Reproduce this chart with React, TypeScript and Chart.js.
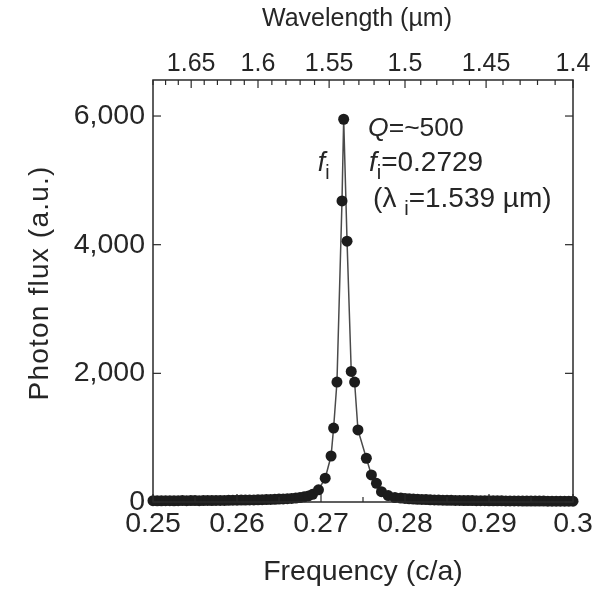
import React, { useEffect, useRef } from 'react';
import { Chart, registerables } from 'chart.js';

Chart.register(...registerables);

// ---- Data ----
const frequency = [
  // low-frequency background
  0.25, 0.2505, 0.251, 0.2515, 0.252, 0.2525, 0.253, 0.2535, 0.254, 0.2545,
  0.255, 0.2555, 0.256, 0.2565, 0.257, 0.2575, 0.258, 0.2585, 0.259, 0.2595,
  0.26, 0.2605, 0.261, 0.2615, 0.262, 0.2625, 0.263, 0.2635, 0.264, 0.2645,
  0.265, 0.2655, 0.266, 0.2665, 0.267, 0.2675, 0.268, 0.2685,
  // resonance peak
  0.269, 0.2697, 0.2705, 0.2712, 0.2715, 0.2719, 0.2725, 0.2727, 0.2731,
  0.2736, 0.274, 0.2744, 0.2754, 0.276, 0.2766, 0.2772, 0.278, 0.2788,
  // high-frequency background
  0.2795, 0.28, 0.2805, 0.281, 0.2815, 0.282, 0.2825, 0.283, 0.2835, 0.284,
  0.2845, 0.285, 0.2855, 0.286, 0.2865, 0.287, 0.2875, 0.288, 0.2885, 0.289,
  0.2895, 0.29, 0.2905, 0.291, 0.2915, 0.292, 0.2925, 0.293, 0.2935, 0.294,
  0.2945, 0.295, 0.2955, 0.296, 0.2965, 0.297, 0.2975, 0.298, 0.2985, 0.299,
  0.2995, 0.3,
];
const photonFlux = [
  20, 18, 18, 20, 20, 18, 20, 22, 20, 22,
  22, 20, 22, 24, 22, 24, 25, 24, 26, 28,
  28, 30, 30, 32, 32, 35, 36, 38, 40, 42,
  45, 48, 52, 56, 62, 70, 80, 95,
  120, 190, 370, 715, 1150, 1865, 4680, 5950, 4055,
  2030, 1865, 1120, 680, 420, 290, 160, 100, 70,
  62, 55, 50, 46, 42, 40, 38, 35, 32, 30,
  28, 27, 26, 25, 24, 23, 22, 22, 21, 20,
  20, 19, 18, 18, 18, 17, 17, 16, 16, 15,
  15, 15, 14, 14, 14, 13, 13, 13, 12, 12,
  12, 12,
];

const freqTicks = [0.25, 0.26, 0.27, 0.28, 0.29, 0.3];
const freqTickLabels = ['0.25', '0.26', '0.27', '0.28', '0.29', '0.3'];
const freqMinorTicks = [0.255, 0.265, 0.275, 0.285, 0.295];
const fluxTicks = [0, 2000, 4000, 6000];
const fluxTickLabels = ['0', '2,000', '4,000', '6,000'];
const wavelengthTicks = [1.65, 1.6, 1.55, 1.5, 1.45, 1.4];
const wavelengthTickLabels = ['1.65', '1.6', '1.55', '1.5', '1.45', '1.4'];
const wavelengthMinorTicks = [
  1.68, 1.67, 1.66, 1.64, 1.63, 1.62, 1.61, 1.59, 1.58, 1.57, 1.56,
  1.54, 1.53, 1.52, 1.51, 1.49, 1.48, 1.47, 1.46, 1.44, 1.43, 1.42, 1.41,
];
const LATTICE_UM = 0.42; // a = f * lambda (0.2729 * 1.539 um)

const X_MIN = 0.25;
const X_MAX = 0.3;
const Y_MIN = 0;
const Y_MAX = 6560;

const FONT = "'Liberation Sans', Arial, Helvetica, sans-serif";
const TEXT = '#262626';

type Seg = { t: string; italic?: boolean; sub?: boolean };

function drawRich(ctx: CanvasRenderingContext2D, x: number, y: number, segs: Seg[], size: number) {
  let cx = x;
  for (const s of segs) {
    const fs = s.sub ? size * 0.72 : size;
    ctx.font = `${s.italic ? 'italic ' : ''}${fs}px ${FONT}`;
    const dy = s.sub ? size * 0.28 : 0;
    ctx.fillText(s.t, cx, y + dy);
    cx += ctx.measureText(s.t).width;
  }
}

const frameTicksPlugin = {
  id: 'frameTicks',
  afterDraw(chart: any) {
    const { ctx, chartArea } = chart;
    const { left, right, top, bottom } = chartArea;
    const xs = chart.scales.x;
    const ys = chart.scales.y;
    ctx.save();
    ctx.strokeStyle = '#2a2a2a';
    ctx.lineWidth = 1.5;
    ctx.strokeRect(left, top, right - left, bottom - top);
    ctx.lineWidth = 1.2;
    const tick = (x1: number, y1: number, x2: number, y2: number) => {
      ctx.beginPath();
      ctx.moveTo(x1, y1);
      ctx.lineTo(x2, y2);
      ctx.stroke();
    };
    freqTicks.forEach((v) => {
      const px = xs.getPixelForValue(v);
      tick(px, bottom, px, bottom - 8);
    });
    freqMinorTicks.forEach((v) => {
      const px = xs.getPixelForValue(v);
      tick(px, bottom, px, bottom - 5);
    });
    wavelengthTicks.forEach((l) => {
      const px = xs.getPixelForValue(LATTICE_UM / l);
      tick(px, top, px, top + 8);
    });
    wavelengthMinorTicks.forEach((l) => {
      const px = xs.getPixelForValue(LATTICE_UM / l);
      tick(px, top, px, top + 5);
    });
    fluxTicks.forEach((v) => {
      const py = ys.getPixelForValue(v);
      tick(left, py, left + 8, py);
      tick(right, py, right - 8, py);
    });

    // top axis title
    ctx.fillStyle = TEXT;
    ctx.font = `25px ${FONT}`;
    ctx.textAlign = 'center';
    ctx.textBaseline = 'middle';
    ctx.fillText('Wavelength (\u00B5m)', (left + right) / 2 - 6, 19);

    // y-axis title (drawn here to allow letter spacing)
    ctx.save();
    ctx.translate(40, (top + bottom) / 2 - 8);
    ctx.rotate(-Math.PI / 2);
    ctx.font = `28px ${FONT}`;
    (ctx as any).letterSpacing = '1.2px';
    ctx.fillText('Photon flux (a.u.)', 0, 0);
    ctx.restore();
    ctx.restore();
  },
};

const annotationPlugin = {
  id: 'annotations',
  afterDatasetsDraw(chart: any) {
    const { ctx } = chart;
    const xs = chart.scales.x;
    const ys = chart.scales.y;
    ctx.save();
    ctx.fillStyle = TEXT;
    ctx.textBaseline = 'alphabetic';
    ctx.textAlign = 'left';
    drawRich(ctx, xs.getPixelForValue(0.2756), ys.getPixelForValue(5690),
      [{ t: 'Q', italic: true }, { t: '=~500' }], 26.5);
    drawRich(ctx, xs.getPixelForValue(0.2757), ys.getPixelForValue(5140),
      [{ t: 'f', italic: true }, { t: 'i', sub: true }, { t: '=0.2729' }], 28);
    drawRich(ctx, xs.getPixelForValue(0.2762), ys.getPixelForValue(4580),
      [{ t: '(\u03BB ' }, { t: 'i', sub: true }, { t: '=1.539 \u00B5m)' }], 28);
    drawRich(ctx, xs.getPixelForValue(0.2696), ys.getPixelForValue(5140),
      [{ t: 'f', italic: true }, { t: 'i', sub: true }], 27);
    ctx.restore();
  },
};

export default function App() {
  const canvasRef = useRef<HTMLCanvasElement | null>(null);

  useEffect(() => {
    const canvas = canvasRef.current;
    if (!canvas) return;
    const points = frequency.map((f, i) => ({ x: f, y: photonFlux[i] }));
    const mainFont = { family: FONT, size: 28.5 };
    const topFont = { family: FONT, size: 25 };

    const chart = new Chart(canvas, {
      type: 'scatter',
      data: {
        datasets: [
          {
            data: points,
            showLine: true,
            borderColor: '#4a4a4a',
            borderWidth: 1.5,
            pointRadius: 5.5,
            pointBackgroundColor: '#1c1c1c',
            pointBorderColor: '#1c1c1c',
            pointBorderWidth: 0,
            clip: 12,
          } as any,
        ],
      },
      options: {
        responsive: false,
        animation: false,
        devicePixelRatio: 1,
        layout: { padding: { left: 0, right: 30, top: 0, bottom: 0 } },
        plugins: {
          legend: { display: false },
          tooltip: { enabled: false },
        },
        scales: {
          x: {
            type: 'linear',
            position: 'bottom',
            min: X_MIN,
            max: X_MAX,
            grid: { display: false, drawTicks: false },
            border: { display: false },
            afterBuildTicks: (scale: any) => {
              scale.ticks = freqTicks.map((v) => ({ value: v }));
            },
            afterFit: (scale: any) => {
              scale.height = 88;
              scale.paddingLeft = 0;
              scale.paddingRight = 0;
            },
            ticks: {
              autoSkip: false,
              maxRotation: 0,
              padding: 5,
              color: TEXT,
              font: mainFont,
              callback: (_v: any, i: number) => freqTickLabels[i],
            },
            title: {
              display: true,
              text: 'Frequency (c/a)',
              color: TEXT,
              font: mainFont,
              padding: { top: 0, bottom: 1 },
            },
          },
          x2: {
            type: 'linear',
            position: 'top',
            min: X_MIN,
            max: X_MAX,
            grid: { display: false, drawTicks: false },
            border: { display: false },
            afterBuildTicks: (scale: any) => {
              scale.ticks = wavelengthTicks.map((l) => ({ value: LATTICE_UM / l }));
            },
            afterFit: (scale: any) => {
              scale.height = 80;
              scale.paddingLeft = 0;
              scale.paddingRight = 0;
            },
            ticks: {
              autoSkip: false,
              maxRotation: 0,
              padding: 1,
              color: TEXT,
              font: topFont,
              callback: (_v: any, i: number) => wavelengthTickLabels[i],
            },
            title: { display: false },
          },
          y: {
            type: 'linear',
            position: 'left',
            min: Y_MIN,
            max: Y_MAX,
            grid: { display: false, drawTicks: false },
            border: { display: false },
            afterBuildTicks: (scale: any) => {
              scale.ticks = fluxTicks.map((v) => ({ value: v }));
            },
            afterFit: (scale: any) => {
              scale.width = 153;
              scale.paddingTop = 0;
              scale.paddingBottom = 0;
            },
            ticks: {
              autoSkip: false,
              padding: 8,
              color: TEXT,
              font: mainFont,
              callback: (_v: any, i: number) => fluxTickLabels[i],
            },
            title: { display: false },
          },
        },
      } as any,
      plugins: [frameTicksPlugin, annotationPlugin],
    });

    return () => {
      chart.destroy();
    };
  }, []);

  return (
    <div style={{ position: 'absolute', left: 0, top: 0, width: 603, height: 590, background: '#fff' }}>
      <canvas ref={canvasRef} width={603} height={590} style={{ display: 'block' }} />
    </div>
  );
}
